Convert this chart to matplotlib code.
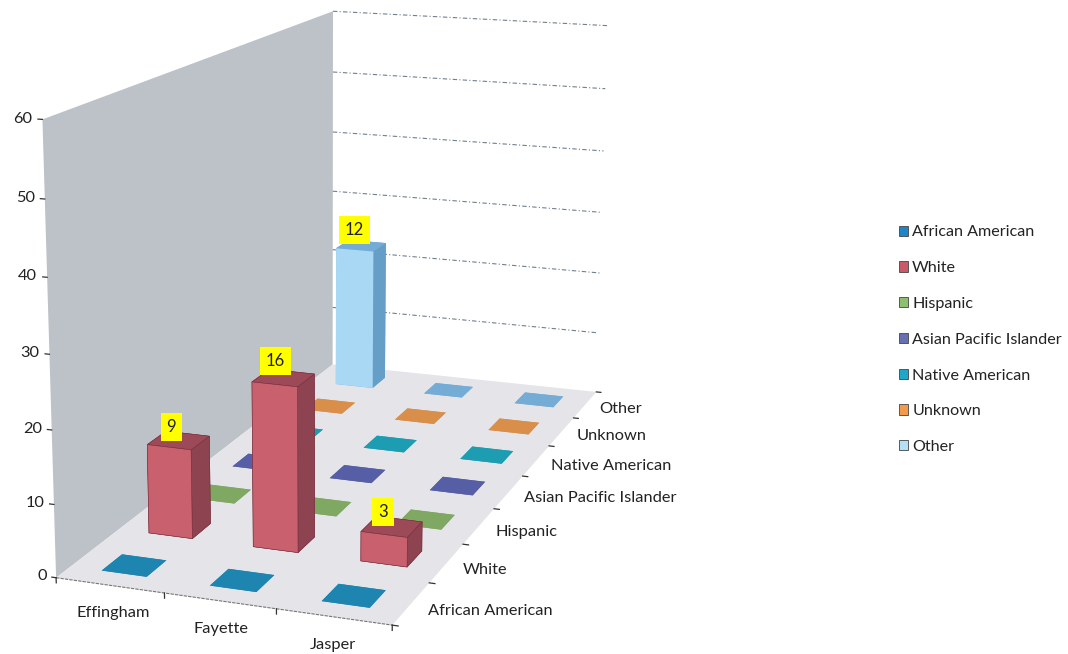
import matplotlib; matplotlib.use("Agg")
import matplotlib.pyplot as plt
from matplotlib.patches import Patch
from mpl_toolkits.mplot3d import proj3d
from mpl_toolkits.mplot3d.art3d import Poly3DCollection

plt.rcParams["font.family"]=["Lato","DejaVu Sans"]

counties=["Effingham","Fayette","Jasper"]
groups=["African American","White","Hispanic","Asian Pacific Islander","Native American","Unknown","Other"]
# bar heights as drawn on the z scale, one row per group
african=[0,0,0]
white=[12.6,23,4.1]
hispanic=[0,0,0]
asian=[0,0,0]
native=[0,0,0]
unknown=[0,0,0]
other=[23,0,0]
rows=[african,white,hispanic,asian,native,unknown,other]
# printed labels (do not follow the bar heights in the source picture)
label_x=[0,1,2,0]
label_y=[1,1,1,6]
label_z=[12.6,23.6,4.15,23.8]
label_txt=["9","16","3","12"]
z_ticks=[0,10,20,30,40,50,60]

legend_cols=["#1C86C8","#C85A6A","#8CC070","#6870B0","#1FA7C9","#F39A4D","#B3E0F7"]
front_cols=["#1E84B0","#C9606E","#7FA862","#565FA6","#1C9DB2","#D98E4A","#A9D8F5"]
top_cols=["#1E84B0","#9C4A58","#7FA862","#565FA6","#1C9DB2","#D98E4A","#74ACD6"]
side_cols=["#1A6F94","#8E4450","#6A8F50","#454D8A","#177F91","#B5763C","#659FC8"]

S=871.3
fig=plt.figure(figsize=(10.68,6.54),dpi=100)
ax=fig.add_axes([-89.0/1068,-68.3/654,S/1068,S/654],projection="3d")
ax.set_box_aspect((2.6723,6.0520,3.5017))
ax.view_init(elev=14.2299,azim=-70.5402,roll=-0.2156)
ax.set_proj_type("persp",focal_length=0.4991)
ax.set_axis_off(); ax.patch.set_alpha(0); ax.computed_zorder=False

nx,ny,zmax=len(counties),len(groups),z_ticks[-1]
ax.set_xlim(0,nx); ax.set_ylim(0,ny); ax.set_zlim(0,zmax)
ax.set_xticks([]); ax.set_yticks([]); ax.set_zticks([])

def label(x,y,z,s,**kw):
    # text placed at the projected spot of a 3d point
    px,py,_=proj3d.proj_transform(x,y,z,ax.get_proj())
    return ax.text2D(px,py,s,color="#222222",zorder=100,**kw)

# walls and floor
ax.add_collection3d(Poly3DCollection([[(0,0,0),(0,ny,0),(0,ny,zmax),(0,0,zmax)]],facecolor="#BDC1C8",edgecolor="none",zorder=1))
ax.add_collection3d(Poly3DCollection([[(0,0,0),(nx,0,0),(nx,ny,0),(0,ny,0)]],facecolor="#E4E4E9",edgecolor="none",zorder=2))
for z in z_ticks[1:]:
    ax.plot([0,nx],[ny,ny],[z,z],color="#6f8090",lw=0.8,ls=(0,(4,2,1,2)),zorder=3)
# axis lines + ticks
ax.plot([0,nx],[0,0],[0,0],color="#777777",lw=0.8,ls=(0,(3,1)),zorder=3)
for i in range(nx+1):
    ax.plot([i,i],[0,0],[0,-0.7],color="#333333",lw=0.9,zorder=3)
for j in range(ny+1):
    ax.plot([nx,nx+0.05],[j,j],[0,0],color="#333333",lw=0.9,zorder=3)
for z in z_ticks:
    ax.plot([0,-0.04],[0,0],[z,z],color="#333333",lw=0.9,zorder=3)
    label(-0.09,0,z,str(z),ha="right",va="center",fontsize=11.8)
for i,c in enumerate(counties):
    label(i*0.95+0.79,-0.56,0,c,ha="center",va="center",fontsize=11.8)
for j,g in enumerate(groups):
    label(nx+0.18,j+0.40,0,g,ha="left",va="center",fontsize=11.8)

# bars, far rows first
w=0.42
for j in range(ny-1,-1,-1):
    for i in range(nx):
        cols=[top_cols[j],top_cols[j],front_cols[j],side_cols[j],side_cols[j],side_cols[j]]
        ax.bar3d(i+0.5-w/2,j+0.5-w/2,0,w,w,rows[j][i],color=cols,shade=False,
                 edgecolor="#7a3040" if rows[j][i] and j==1 else "none",linewidth=0.4,zorder=10+(ny-j)*4+i)
for x,y,z,t in zip(label_x,label_y,label_z,label_txt):
    label(x+0.38,y+0.62,z,t,ha="center",va="bottom",fontsize=12,
          bbox=dict(facecolor="#FFFF00",edgecolor="none",pad=4.3))

handles=[Patch(facecolor=c,edgecolor="#444444",lw=0.6) for c in legend_cols]
fig.legend(handles,groups,loc="upper left",bbox_to_anchor=(884/1068,1-211/654),frameon=False,fontsize=11.6,
           labelspacing=1.35,handlelength=0.6,handleheight=0.6,handletextpad=0.25,labelcolor="#222222")
fig.savefig("out.png",dpi=100)
